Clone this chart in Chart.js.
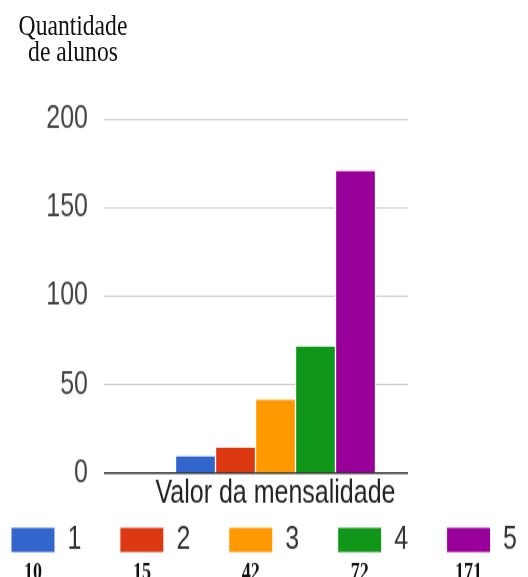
<!DOCTYPE html>
<html>
<head>
<meta charset="utf-8">
<script src="https://cdn.jsdelivr.net/npm/chart.js@4"></script>
<style>
html { overflow: hidden; }
html, body { margin: 0; padding: 0; background: #fff; height: 577px; }
#wrap { position: relative; width: 528px; height: 451px; transform: scaleY(1.2794); transform-origin: 0 0; }
#wrap canvas { position: absolute; left: 0; top: 0; }
#title { position: absolute; left: 10px; top: 9px; width: 126px; text-align: center;
  font: 23.6px "Liberation Serif", "Times New Roman", serif; line-height: 21px; color: #111; }
</style>
</head>
<body>
<div id="wrap">
  <canvas id="chart" width="528" height="451"></canvas>
  <div id="title">Quantidade<br>de alunos</div>
</div>
<script>
var categories = ["Valor da mensalidade"];
var seriesNames = ["1", "2", "3", "4", "5"];
var seriesValues = [10, 15, 42, 72, 171];
var seriesColors = ["#3366cc", "#dc3912", "#ff9900", "#109618", "#990099"];
var yTicks = [0, 50, 100, 150, 200];

var sans = '"Liberation Sans", Arial, sans-serif';

var datasets = [];
for (var i = 0; i < seriesNames.length; i++) {
    datasets.push({
        label: seriesNames[i],
        data: [seriesValues[i]],
        backgroundColor: seriesColors[i],
        borderColor: "#fff",
        borderWidth: 1,
        barThickness: 40
    });
}

// numbers written under each legend box
var legendValues = {
    id: "legendValues",
    afterDraw: function(chart) {
        var ctx = chart.ctx;
        var boxes = chart.legend.legendHitBoxes;
        ctx.save();
        ctx.font = 'bold 18px "Liberation Serif", "Times New Roman", serif';
        ctx.fillStyle = "#111";
        ctx.textAlign = "center";
        ctx.textBaseline = "top";
        for (var i = 0; i < boxes.length; i++) {
            var b = boxes[i];
            ctx.fillText(String(seriesValues[i]), b.left + 22, b.top + b.height + 5);
        }
        ctx.restore();
    }
};

var myChart = new Chart(document.getElementById("chart"), {
    type: "bar",
    data: {
        labels: categories,
        datasets: datasets
    },
    options: {
        responsive: false,
        animation: false,
        // negative side padding gives the legend row room for wide gaps
        layout: { padding: { top: 93, bottom: 6.5, left: -28, right: -28 } },
        plugins: {
            title: { display: false },
            tooltip: { enabled: false },
            legend: {
                position: "bottom",
                labels: {
                    boxWidth: 44,
                    boxHeight: 20,
                    padding: 38.5,
                    color: "#333",
                    font: { family: sans, size: 25 }
                }
            }
        },
        scales: {
            x: {
                grid: { display: false, drawTicks: false },
                border: { display: false },
                ticks: { display: false },
                title: {
                    display: true,
                    text: categories[0],
                    color: "#222",
                    padding: { top: 0, bottom: -30 },
                    font: { family: sans, size: 25 }
                },
                afterFit: function(scale) { scale.height = 1; }
            },
            y: {
                min: 0,
                max: 200,
                border: { display: false },
                grid: {
                    color: function(c) { return c.tick && c.tick.value === 0 ? "#333" : "#ccc"; },
                    lineWidth: function(c) { return c.tick && c.tick.value === 0 ? 1.5 : 1; },
                    drawTicks: true,
                    tickLength: 39
                },
                ticks: {
                    color: "#444",
                    padding: 16,
                    font: { family: sans, size: 25 }
                },
                afterBuildTicks: function(scale) {
                    scale.ticks = yTicks.map(function(v) { return { value: v }; });
                },
                afterFit: function(scale) { scale.width = 171; }
            },
            y2: {
                position: "right",
                display: true,
                grid: { display: false },
                border: { display: false },
                ticks: { display: false },
                afterFit: function(scale) { scale.width = 148; }
            }
        }
    },
    plugins: [legendValues]
});
</script>
</body>
</html>
